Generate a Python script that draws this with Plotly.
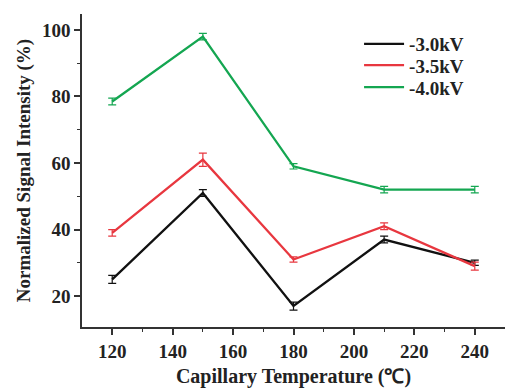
import plotly.graph_objects as go

temps = [120, 150, 180, 210, 240]
series_names = ["-3.0kV", "-3.5kV", "-4.0kV"]
v30 = [25, 51, 17, 37, 30]
e30 = [1.2, 1.0, 1.2, 1.0, 0.8]
v35 = [39, 61, 31, 41, 29]
e35 = [1.0, 2.0, 0.8, 1.0, 1.2]
v40 = [78.5, 98, 59, 52, 52]
e40 = [1.0, 1.0, 0.8, 1.0, 1.0]
colors = ["#111111", "#e8373f", "#14a651"]

font_fam = "Liberation Serif, Times New Roman, serif"
bold_font = dict(family=font_fam, size=19, color="#222222", weight="bold")

legend_ids = ["legend", "legend2", "legend3"]
legend_ys = [0.904, 0.836, 0.766]

fig = go.Figure()
for name, vals, errs, col, lid in zip(series_names, [v30, v35, v40], [e30, e35, e40], colors, legend_ids):
    fig.add_trace(go.Scatter(
        x=temps, y=vals, name=name, mode="lines", legend=lid,
        line=dict(color=col, width=2.3),
        error_y=dict(type="data", array=errs, visible=True, color=col, thickness=1.2, width=4),
    ))

axis_common = dict(
    showline=True, linecolor="#333333", linewidth=1.5, mirror=False,
    ticks="outside", ticklen=6, tickwidth=1.5, tickcolor="#333333",
    showgrid=False, zeroline=False, automargin=False,
    tickfont=bold_font,
)

legends = {}
for lid, ly in zip(legend_ids, legend_ys):
    legends[lid] = dict(x=0.655, y=ly, xanchor="left", yanchor="middle",
                        font=bold_font, bgcolor="rgba(0,0,0,0)", itemwidth=40)

fig.update_layout(
    width=505, height=390,
    margin=dict(l=82, r=0, t=14, b=63),
    plot_bgcolor="white", paper_bgcolor="white",
    font=dict(family=font_fam, color="#222222"),
    showlegend=True,
    xaxis=dict(range=[110, 250], tickvals=[120, 140, 160, 180, 200, 220, 240],
               minor=dict(tickvals=[130, 150, 170, 190, 210, 230, 250], ticks="outside", ticklen=3, tickwidth=1.2, tickcolor="#333333"),
               title=dict(text="Capillary Temperature (℃)", font=dict(family=font_fam, size=20, color="#222222", weight="bold"), standoff=8),
               **axis_common),
    yaxis=dict(range=[10.7, 104.8], tickvals=[20, 40, 60, 80, 100],
               minor=dict(tickvals=[30, 50, 70, 90], ticks="outside", ticklen=3, tickwidth=1.2, tickcolor="#333333"),
               title=dict(text="Normalized Signal Intensity (%)", font=bold_font, standoff=6),
               **axis_common),
    **legends,
)

fig.write_html("out.html", config={"displayModeBar": False},
               post_script="document.body.style.margin='0';document.body.style.overflow='hidden';")
